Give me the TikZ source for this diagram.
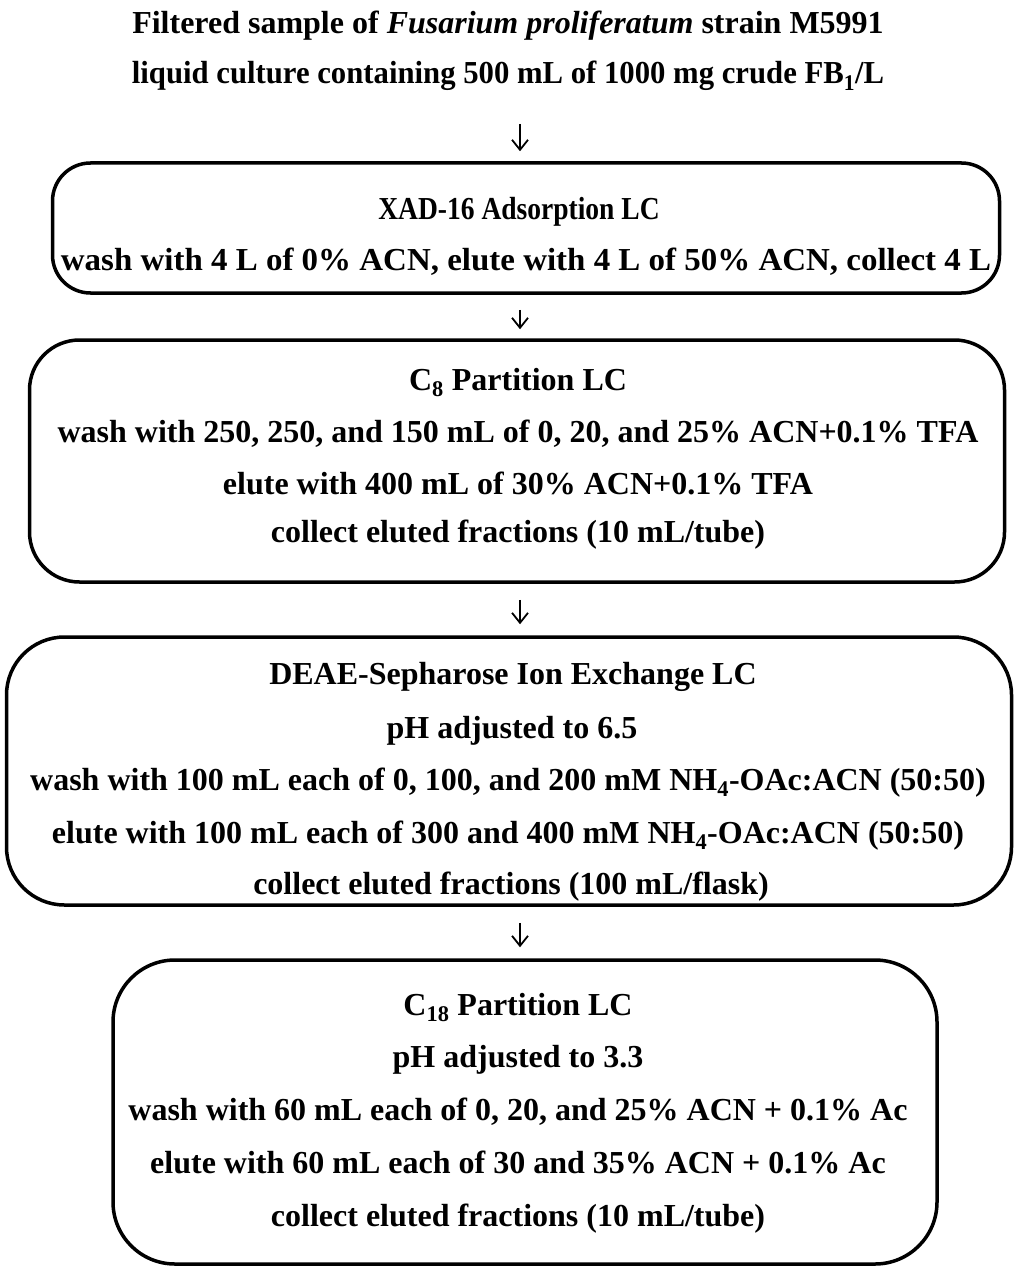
\documentclass[tikz,border=0pt]{standalone}
\usepackage{fontspec}
\setmainfont{Liberation Serif}
\usetikzlibrary{arrows.meta}
\newcommand{\fs}{\fontsize{32}{38}\selectfont\bfseries}
\begin{document}
\begin{tikzpicture}[x=1pt,y=-1pt,
  txt/.style={font=\fs, inner sep=0pt, anchor=base},
  box/.style={draw, line width=3.5pt, inner sep=0pt},
  flow/.style={-{Straight Barb[length=10pt,width=16pt,line width=1.8pt]}, line width=1.8pt}]
\useasboundingbox (0,0) rectangle (1017,1268);
% title
\node[txt] (t1) at (508,34) {Filtered sample of \textit{Fusarium proliferatum} strain M5991};
\node[txt] (t2) at (508,84) {\scalebox{0.96}[1]{liquid culture containing 500 mL of 1000 mg crude FB\textsubscript{1}/L}};
% boxes
\node[box, rounded corners=38pt, minimum width=947pt, minimum height=130pt] (b1) at (526,228) {};
\node[box, rounded corners=50pt, minimum width=975pt, minimum height=242pt] (b2) at (517,461) {};
\node[box, rounded corners=58pt, minimum width=1005pt, minimum height=268pt] (b3) at (509,771) {};
\node[box, rounded corners=62pt, minimum width=824pt, minimum height=304pt] (b4) at (525,1112) {};
% box 1
\node[txt] (l11) at (519,219) {\scalebox{0.86}[1]{XAD-16 Adsorption LC}};
\node[txt] (l12) at (526,270) {\scalebox{1.03}[1]{wash with 4 L of 0\% ACN, elute with 4 L of 50\% ACN, collect 4 L}};
% box 2
\node[txt] (l21) at (518,390) {C\textsubscript{8} Partition LC};
\node[txt] (l22) at (518,442) {wash with 250, 250, and 150 mL of 0, 20, and 25\% ACN+0.1\% TFA};
\node[txt] (l23) at (518,494) {elute with 400 mL of 30\% ACN+0.1\% TFA};
\node[txt] (l24) at (518,542) {collect eluted fractions (10 mL/tube)};
% box 3
\node[txt] (l31) at (513,684) {DEAE-Sepharose Ion Exchange LC};
\node[txt] (l32) at (512,738) {pH adjusted to 6.5};
\node[txt] (l33) at (508,790) {wash with 100 mL each of 0, 100, and 200 mM NH\textsubscript{4}-OAc:ACN (50:50)};
\node[txt] (l34) at (508,843) {elute with 100 mL each of 300 and 400 mM NH\textsubscript{4}-OAc:ACN (50:50)};
\node[txt] (l35) at (511,894) {collect eluted fractions (100 mL/flask)};
% box 4
\node[txt] (l41) at (518,1015) {C\textsubscript{18} Partition LC};
\node[txt] (l42) at (518,1067) {pH adjusted to 3.3};
\node[txt] (l43) at (518,1120) {wash with 60 mL each of 0, 20, and 25\% ACN + 0.1\% Ac};
\node[txt] (l44) at (518,1173) {elute with 60 mL each of 30 and 35\% ACN + 0.1\% Ac};
\node[txt] (l45) at (518,1226) {collect eluted fractions (10 mL/tube)};
% arrows
\coordinate (ax) at (520,0);
\draw[flow, shorten <=40pt, shorten >=10pt] (t2.base -| ax) -- (b1.north -| ax);
\draw[flow, shorten <=15pt, shorten >=9pt] (b1.south -| ax) -- (b2.north -| ax);
\draw[flow, shorten <=16pt, shorten >=11pt] (b2.south -| ax) -- (b3.north -| ax);
\draw[flow, shorten <=16pt, shorten >=11pt] (b3.south -| ax) -- (b4.north -| ax);
\end{tikzpicture}
\end{document}
